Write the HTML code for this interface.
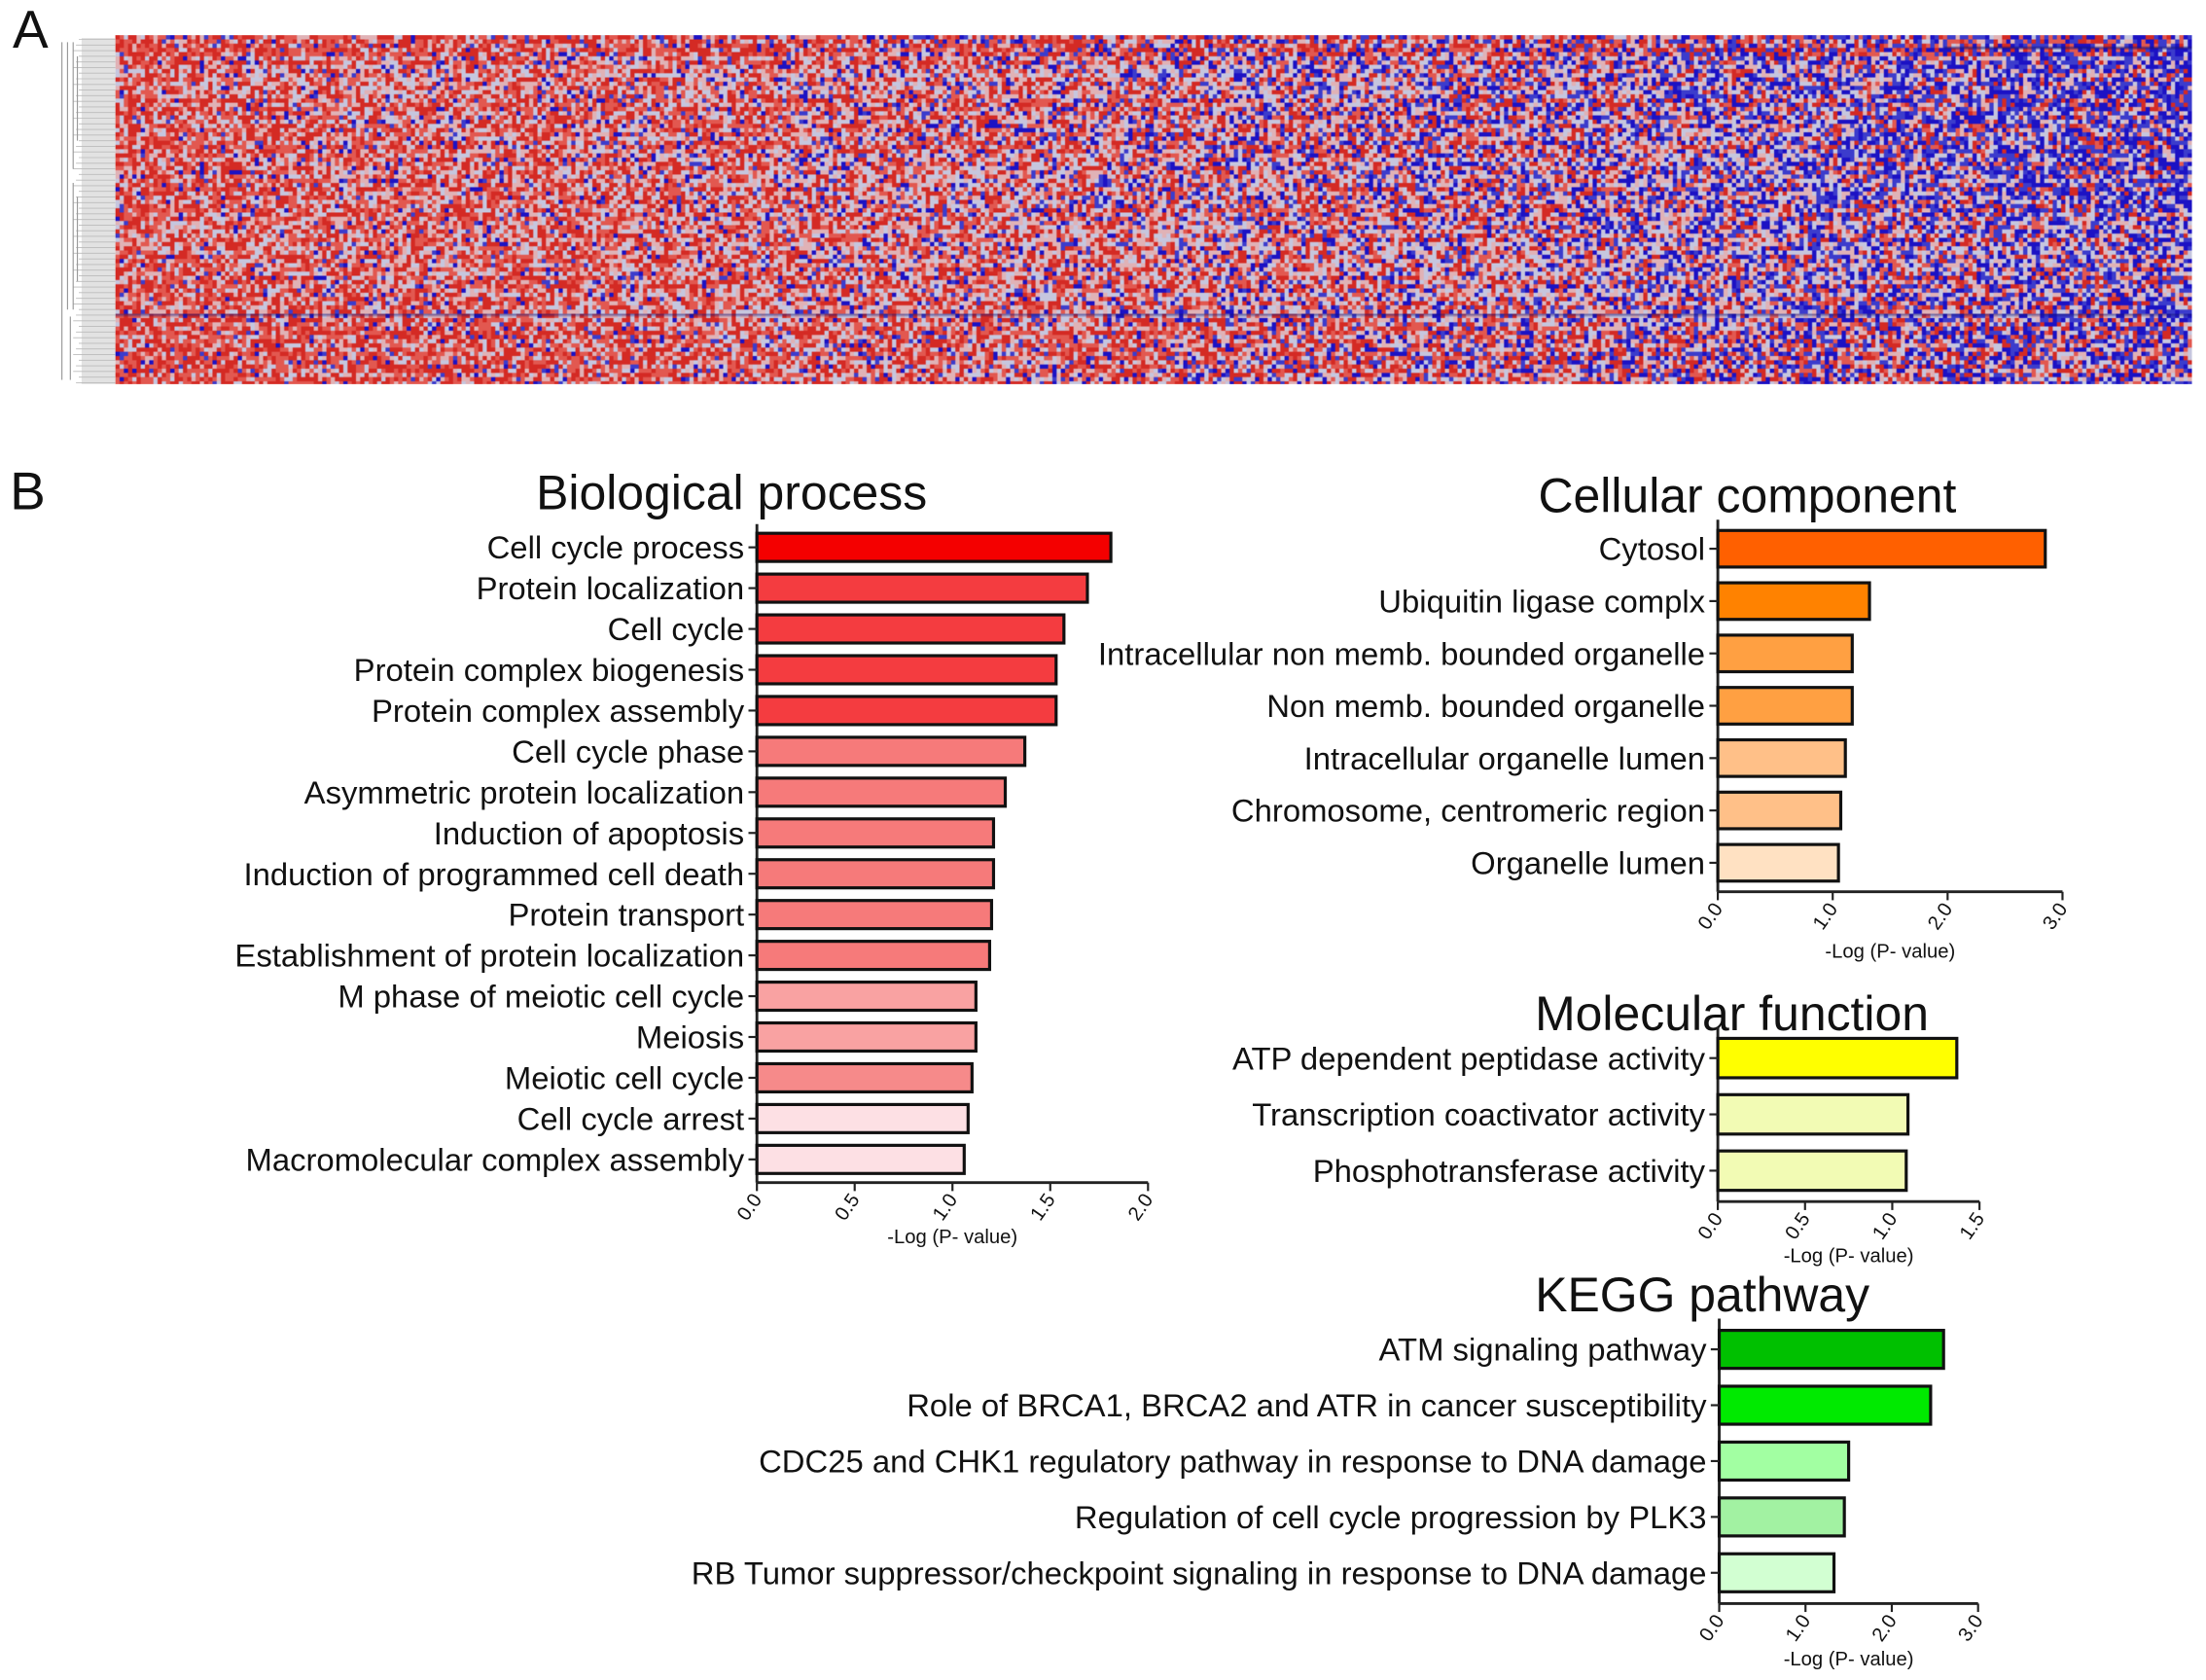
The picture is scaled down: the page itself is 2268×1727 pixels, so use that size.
<!DOCTYPE html>
<html><head><meta charset="utf-8"><style>
html,body{margin:0;padding:0;background:#fff;width:2268px;height:1727px;overflow:hidden}
#stage{position:absolute;left:0;top:0;width:1568px;height:1194px;transform:scale(1.44643,1.44640);transform-origin:0 0}
#heat{position:absolute;left:82px;top:25px;width:1476px;height:248px}
svg{position:absolute;left:0;top:0}
text{font-family:"Liberation Sans",Arial,sans-serif;fill:#111}
</style></head><body>
<div id="stage">
<canvas id="heat" width="1476" height="248"></canvas>
<svg id="svg" width="1568" height="1194" viewBox="0 0 1568 1194">
<text x="9" y="34" font-size="38">A</text>
<text x="7" y="362" font-size="38">B</text>
<g id="dendro"></g>
</svg>
</div>
<script>
// Biological process
const bpCats=["Cell cycle process","Protein localization","Cell cycle","Protein complex biogenesis","Protein complex assembly","Cell cycle phase","Asymmetric protein localization","Induction of apoptosis","Induction of programmed cell death","Protein transport","Establishment of protein localization","M phase of meiotic cell cycle","Meiosis","Meiotic cell cycle","Cell cycle arrest","Macromolecular complex assembly"];
const bpVals=[1.81,1.69,1.57,1.53,1.53,1.37,1.27,1.21,1.21,1.20,1.19,1.12,1.12,1.10,1.08,1.06];
const bpTicks=["0.0","0.5","1.0","1.5","2.0"];
// Cellular component
const ccCats=["Cytosol","Ubiquitin ligase complx","Intracellular non memb. bounded organelle","Non memb. bounded organelle","Intracellular organelle lumen","Chromosome, centromeric region","Organelle lumen"];
const ccVals=[2.85,1.32,1.17,1.17,1.11,1.07,1.05];
const ccTicks=["0.0","1.0","2.0","3.0"];
// Molecular function
const mfCats=["ATP dependent peptidase activity","Transcription coactivator activity","Phosphotransferase activity"];
const mfVals=[1.37,1.09,1.08];
const mfTicks=["0.0","0.5","1.0","1.5"];
// KEGG
const kgCats=["ATM signaling pathway","Role of BRCA1, BRCA2 and ATR in cancer susceptibility","CDC25 and CHK1 regulatory pathway in response to DNA damage","Regulation of cell cycle progression by PLK3","RB Tumor suppressor/checkpoint signaling in response to DNA damage"];
const kgVals=[2.6,2.45,1.5,1.45,1.33];
const kgTicks=["0.0","1.0","2.0","3.0"];

const NS="http://www.w3.org/2000/svg";
const svg=document.getElementById('svg');
function mk(tag,attrs,parent){const e=document.createElementNS(NS,tag);for(const k in attrs)e.setAttribute(k,attrs[k]);(parent||svg).appendChild(e);return e;}

function chart(key,title,cats,vals,ticks,cfg){
  const g=mk('g',{});
  
  
  const tmax=parseFloat(ticks[ticks.length-1]);
  const x=v=>cfg.x0+(v/tmax)*cfg.w;
  const y=i=>cfg.y0+i*cfg.pitch;
  const t=mk('text',{x:cfg.tx,y:cfg.ty,'font-size':34.5,'text-anchor':'middle'},g);t.textContent=title;
  
  
  const top=y(0)-cfg.pitch/2-2, bot=y(cats.length-1)+cfg.pitch/2+2;
  const ya=mk('line',{x1:cfg.x0,x2:cfg.x0,y1:top,y2:bot,stroke:'#222','stroke-width':2},g);
  
  
  const xa=mk('line',{x1:cfg.x0,x2:cfg.x0+cfg.w,y1:bot,y2:bot,stroke:'#222','stroke-width':2},g);
  
  
  cats.forEach((c,i)=>{
    const cy=y(i);
    const r=mk('rect',{x:cfg.x0,y:cy-cfg.bh/2,width:x(vals[i])-cfg.x0,height:cfg.bh,fill:cfg.colors[i],stroke:'#111','stroke-width':2.2},g);
    
    
    mk('line',{x1:cfg.x0-6,x2:cfg.x0,y1:cy,y2:cy,stroke:'#222','stroke-width':1.5},g);
    const l=mk('text',{x:cfg.x0-9,y:cy+8,'font-size':22.7,'text-anchor':'end'},g);l.textContent=c;
    
    
  });
  ticks.forEach(tk=>{
    const tx=x(parseFloat(tk));
    mk('line',{x1:tx,x2:tx,y1:bot,y2:bot+6,stroke:'#222','stroke-width':1.5},g);
    const tl=mk('text',{x:tx+4,y:bot+12,'font-size':14,'text-anchor':'end',transform:`rotate(-55 ${tx+4} ${bot+12})`},g);tl.textContent=tk;
    
    
  });
  const xt=mk('text',{x:cfg.x0+cfg.w/2,y:bot+cfg.xtOff,'font-size':14,'text-anchor':'middle'},g);xt.textContent='-Log (P- value)';
  
  
}
chart('biological-process','Biological process',bpCats,bpVals,bpTicks,{x0:538,w:278,y0:389,pitch:29,bh:20,tx:520,ty:362,xtOff:43,
 colors:['#f40000','#f43c40','#f43c40','#f43c40','#f43c40','#f67a7a','#f67a7a','#f67a7a','#f67a7a','#f67a7a','#f67a7a','#f9a2a2','#f9a2a2','#f68a8a','#fde0e4','#fde0e4']});
chart('cellular-component','Cellular component',ccCats,ccVals,ccTicks,{x0:1221,w:245,y0:390,pitch:37.2,bh:26,tx:1242,ty:364,xtOff:47,
 colors:['#ff6000','#ff8200','#ffa042','#ffa042','#ffc088','#ffc088','#ffe1c2']});
chart('molecular-function','Molecular function',mfCats,mfVals,mfTicks,{x0:1221,w:186,y0:752,pitch:40,bh:28,tx:1231,ty:732,xtOff:43,
 colors:['#ffff00','#f2fbb4','#f2fbb4']});
chart('kegg-pathway','KEGG pathway',kgCats,kgVals,kgTicks,{x0:1222,w:184,y0:959,pitch:39.7,bh:27,tx:1210,ty:932,xtOff:44,
 colors:['#00c000','#00ea00','#a2ffa2','#a2f2a2','#d2ffd2']});

// dendrogram (decorative)
const dg=document.getElementById('dendro');
mk('rect',{x:58,y:27,width:24,height:246,fill:'#e2e2e2'},dg);
for(let i=0;i<62;i++){const yy=28+i*4;mk('line',{x1:58-(i%3)*2-2,x2:82,y1:yy,y2:yy,stroke:'#bbb','stroke-width':0.6},dg);}
[[44,30,270],[48,30,220],[52,30,120],[52,130,220],[50,225,270],[55,40,100],[55,140,200]].forEach(s=>mk('line',{x1:s[0],x2:s[0],y1:s[1],y2:s[2],stroke:'#999','stroke-width':0.8},dg));

// heatmap texture (decorative background, not chart data)
const cv=document.getElementById('heat'),ctx=cv.getContext('2d');
let seed=12345;function rnd(){seed=(seed*1103515245+12345)&0x7fffffff;return seed/0x7fffffff;}
const CW=3,CH=3,cols=Math.ceil(1476/CW),rows=Math.ceil(248/CH);
const colBias=[];for(let c=0;c<cols;c++)colBias.push((rnd()-0.5)*0.3);
const rowBias=[];for(let r=0;r<rows;r++)rowBias.push((rnd()-0.5)*0.25);
for(let r=0;r<rows;r++)for(let c=0;c<cols;c++){
  const fx=c/cols, fy=r/rows;
  let red=0.78-0.55*fx+colBias[c]+rowBias[r];
  if(fy<0.05)red+=0.2;
  if(fy>0.8)red+=0.15;
  let blue=0.08+0.5*fx*fx+(fy<0.5?0.12*fx:0)-colBias[c]*0.5;
  const v=rnd();let col;
  if(v<red*0.75)col=(rnd()<0.55)?'#d42a24':'#e25850';
  else if(v<red*0.75+blue*0.8)col=(rnd()<0.5)?'#1c12c4':'#3c3ccc';
  else col=(rnd()<0.5)?'#c6c6de':'#e0b2b6';
  ctx.fillStyle=col;ctx.fillRect(c*CW,r*CH,CW,CH);
}
ctx.fillStyle='rgba(20,20,120,0.5)';ctx.fillRect(1300,8,176,2);ctx.fillRect(0,198,1476,1.5);
</script>
</body></html>
